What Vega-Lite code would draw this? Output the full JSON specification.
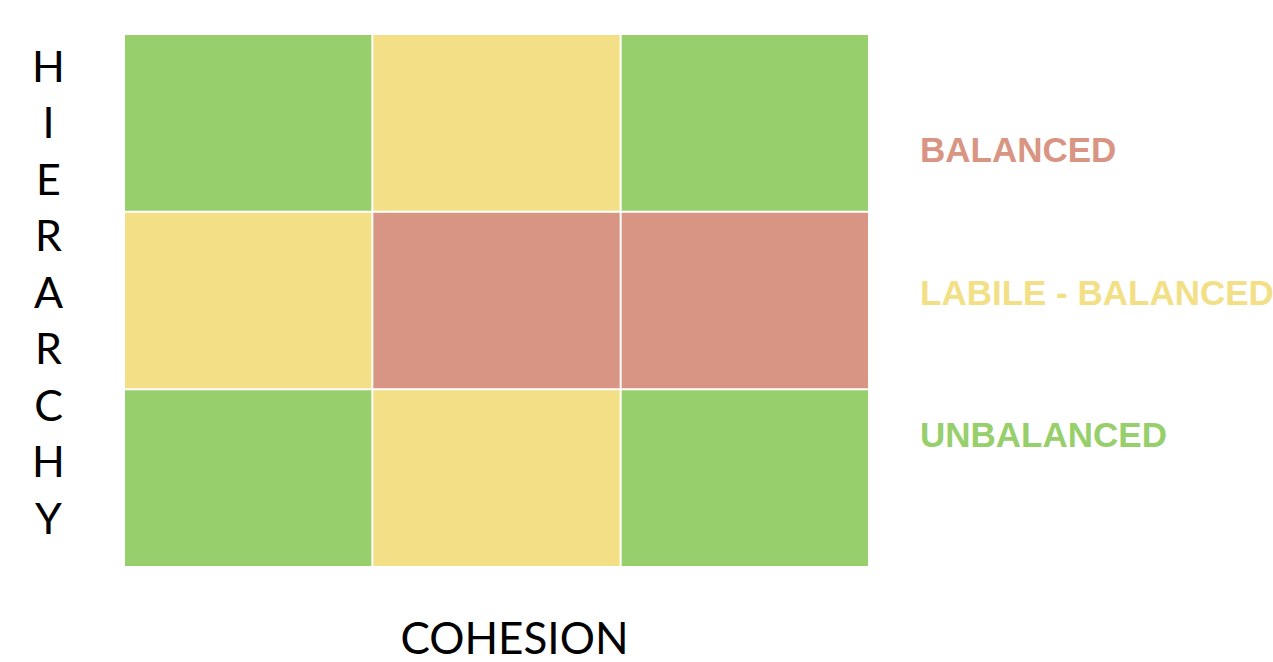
{
  "$schema": "https://vega.github.io/schema/vega-lite/v6.json",
  "width": 743,
  "height": 531,
  "autosize": {"type": "none"},
  "padding": {"left": 125, "top": 35, "right": 405, "bottom": 96},
  "background": "white",
  "config": {"view": {"stroke": null}},
  "data": {
    "values": [
      {"cohesion": "1", "hierarchy": "1", "category": "UNBALANCED"},
      {"cohesion": "2", "hierarchy": "1", "category": "LABILE - BALANCED"},
      {"cohesion": "3", "hierarchy": "1", "category": "UNBALANCED"},
      {"cohesion": "1", "hierarchy": "2", "category": "LABILE - BALANCED"},
      {"cohesion": "2", "hierarchy": "2", "category": "BALANCED"},
      {"cohesion": "3", "hierarchy": "2", "category": "BALANCED"},
      {"cohesion": "1", "hierarchy": "3", "category": "UNBALANCED"},
      {"cohesion": "2", "hierarchy": "3", "category": "LABILE - BALANCED"},
      {"cohesion": "3", "hierarchy": "3", "category": "UNBALANCED"}
    ]
  },
  "mark": {"type": "rect"},
  "encoding": {
    "x": {
      "field": "cohesion",
      "type": "ordinal",
      "scale": {"paddingInner": 0.008, "paddingOuter": 0},
      "axis": {
        "title": "COHESION",
        "labels": false,
        "ticks": false,
        "domain": false,
        "titleFont": "Lato",
        "titleFontSize": 44,
        "titleFontWeight": "normal",
        "titleColor": "black",
        "titleX": 389,
        "titleY": 87,
        "titleAlign": "center",
        "titleBaseline": "alphabetic"
      }
    },
    "y": {
      "field": "hierarchy",
      "type": "ordinal",
      "scale": {"paddingInner": 0.0113, "paddingOuter": 0},
      "axis": {
        "title": ["H", "I", "E", "R", "A", "R", "C", "H", "Y"],
        "labels": false,
        "ticks": false,
        "domain": false,
        "titleFont": "Lato",
        "titleFontSize": 43,
        "titleFontWeight": "normal",
        "titleColor": "black",
        "titleAngle": 0,
        "titleX": -77,
        "titleY": 46,
        "titleAlign": "center",
        "titleBaseline": "alphabetic",
        "titleLineHeight": 56.5
      }
    },
    "color": {
      "field": "category",
      "type": "nominal",
      "scale": {
        "domain": ["BALANCED", "LABILE - BALANCED", "UNBALANCED"],
        "range": ["#D99583", "#F3E086", "#97CF6C"]
      },
      "legend": {
        "title": null,
        "orient": "none",
        "legendX": 760,
        "legendY": 98.5,
        "symbolSize": 0,
        "symbolOpacity": 0,
        "symbolStrokeWidth": 0,
        "labelOffset": 0,
        "labelFont": "Liberation Sans",
        "labelFontSize": 35,
        "labelFontWeight": "bold",
        "labelLimit": 1000,
        "rowPadding": 106.5,
        "encode": {
          "labels": {
            "update": {
              "fill": {"scale": "color", "field": "value"}
            }
          }
        }
      }
    }
  }
}
